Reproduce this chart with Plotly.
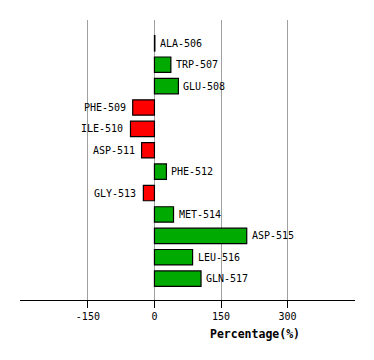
import plotly.graph_objects as go

residues = ["ALA-506", "TRP-507", "GLU-508", "PHE-509", "ILE-510", "ASP-511",
            "PHE-512", "GLY-513", "MET-514", "ASP-515", "LEU-516", "GLN-517"]
percent = [1, 37, 54, -49, -54, -29, 27, -25, 43, 208, 86, 105]
tick_vals = [-150, 0, 150, 300]
tick_text = ["-150", "0", "150", "300"]

colors = ["#00AA00" if v >= 0 else "#FF0000" for v in percent]

fig = go.Figure()
fig.add_trace(go.Bar(
    x=percent, y=residues, orientation="h",
    marker=dict(color=colors, line=dict(color="black", width=1.2)),
    width=0.72, hoverinfo="x+y",
))

annotations = []
for r, v in zip(residues, percent):
    annotations.append(dict(
        x=v, y=r, xref="x", yref="y", text=r, showarrow=False,
        xanchor="left" if v >= 0 else "right",
        xshift=3 if v >= 0 else -5,
        font=dict(family="DejaVu Sans Mono", size=10, color="black"),
    ))
annotations.append(dict(
    x=0.701, y=-0.121, xref="paper", yref="paper", text="<b>Percentage(%)</b>",
    showarrow=False, xanchor="center", yanchor="middle",
    font=dict(family="DejaVu Sans Mono", size=11.5, color="black"),
))

fig.update_layout(
    width=374, height=360,
    margin=dict(l=20, r=19, t=20, b=60),
    paper_bgcolor="white", plot_bgcolor="white",
    showlegend=False,
    annotations=annotations,
    xaxis=dict(
        range=[-303, 452], tickvals=tick_vals, ticktext=tick_text,
        showgrid=True, gridcolor="#a0a0a0", gridwidth=1,
        zeroline=False, showline=True, linecolor="black", linewidth=1,
        ticks="outside", ticklen=7, tickcolor="black", tickwidth=1,
        tickfont=dict(family="DejaVu Sans Mono", size=10, color="black"),
        fixedrange=True,
    ),
    yaxis=dict(
        range=[12.0, -1.09], showticklabels=False, showgrid=False,
        zeroline=False, showline=False, ticks="", fixedrange=True,
    ),
)

fig.write_html("out.html", config={"displayModeBar": False},
               post_script="document.body.style.margin='0';document.body.style.padding='0';")
